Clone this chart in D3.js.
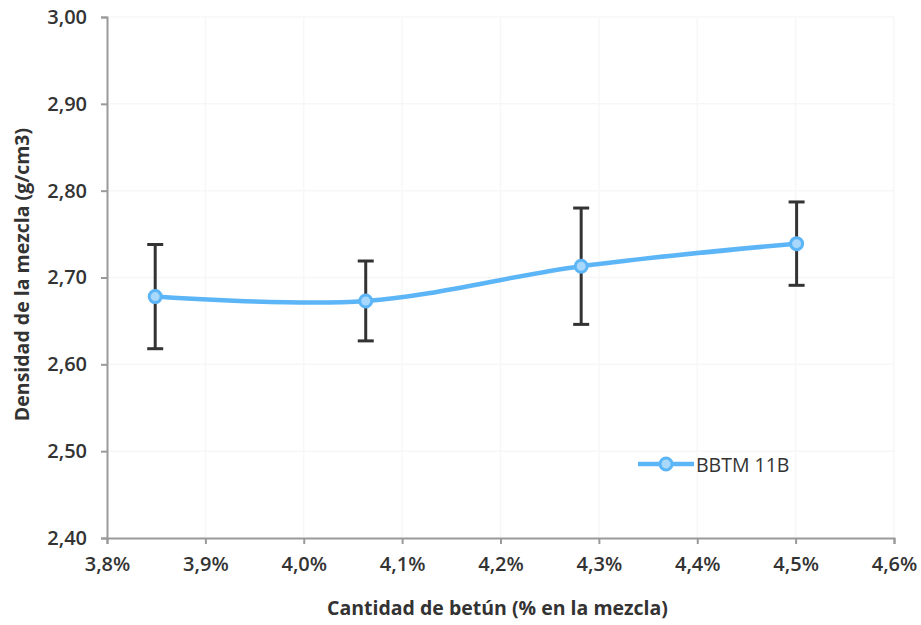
<!DOCTYPE html>
<html>
<head>
<meta charset="utf-8">
<script src="https://cdn.jsdelivr.net/npm/d3@7"></script>
<style>
  html, body { margin: 0; padding: 0; background: #fff; }
  svg { display: block; }
  text { font-family: "Open Sans", Lato, sans-serif; fill: #333; }
</style>
</head>
<body>
<svg id="chart" width="921" height="625"></svg>
<script>
// Bitumen content (% in mix) vs. mix density (g/cm3), BBTM 11B
const bitumen = [3.849, 4.063, 4.282, 4.501];
const density = [2.678, 2.673, 2.713, 2.739];
const errDensity = [0.060, 0.046, 0.067, 0.048];
const seriesName = "BBTM 11B";
const xTicks = [3.8, 3.9, 4.0, 4.1, 4.2, 4.3, 4.4, 4.5, 4.6];
const yTicks = [2.40, 2.50, 2.60, 2.70, 2.80, 2.90, 3.00];

const svg = d3.select("#chart");
const margin = { left: 109, right: 27, top: 17, bottom: 87 };
const W = 921, H = 625;

const x = d3.scaleLinear().domain([3.8, 4.6]).range([margin.left - 2, W - margin.right]);
const y = d3.scaleLinear().domain([2.40, 3.00]).range([H - margin.bottom, margin.top]);

const fmtX = v => d3.format(".1f")(v).replace(".", ",") + "%";
const fmtY = v => d3.format(".2f")(v).replace(".", ",");

// faint gridlines
const grid = svg.append("g");
grid.selectAll(".gx").data(xTicks.slice(1)).join("line")
  .attr("x1", d => x(d)).attr("x2", d => x(d))
  .attr("y1", y(3.0)).attr("y2", y(2.4))
  .attr("stroke", "#f7f7f7").attr("stroke-width", 1.5);
grid.selectAll(".gy").data(yTicks.slice(1)).join("line")
  .attr("x1", x(3.8)).attr("x2", x(4.6))
  .attr("y1", d => y(d)).attr("y2", d => y(d))
  .attr("stroke", "#f7f7f7").attr("stroke-width", 1.5);

// axes
const xAxis = svg.append("g")
  .attr("transform", `translate(0,${y(2.4)})`)
  .call(d3.axisBottom(x).tickValues(xTicks).tickFormat(fmtX).tickSize(6).tickPadding(13));
const yAxis = svg.append("g")
  .attr("transform", `translate(${x(3.8)},0)`)
  .call(d3.axisLeft(y).tickValues(yTicks).tickFormat(fmtY).tickSize(6).tickPadding(14));

[xAxis, yAxis].forEach(g => {
  g.select(".domain").attr("stroke", "#9a9a9a").attr("stroke-width", 2);
  g.selectAll(".tick line").attr("stroke", "#9a9a9a").attr("stroke-width", 2);
  g.selectAll(".tick text").style("font-size", "20px").style("font-weight", "600").attr("fill", "#333");
});

// axis titles
svg.append("text")
  .attr("x", (x(3.8) + x(4.6)) / 2 - 3).attr("y", 615)
  .attr("text-anchor", "middle")
  .style("font-size", "19.5px").style("font-weight", "bold")
  .text("Cantidad de betún (% en la mezcla)");
svg.append("text")
  .attr("transform", `translate(29,${(y(2.4) + y(3.0)) / 2 - 3}) rotate(-90)`)
  .attr("text-anchor", "middle")
  .style("font-size", "19.5px").style("font-weight", "bold")
  .text("Densidad de la mezcla (g/cm3)");

const pts = bitumen.map((v, i) => ({ x: v, y: density[i], e: errDensity[i] }));
const blue = "#5cb5f7";

// smoothed series line
svg.append("path")
  .datum(pts)
  .attr("fill", "none")
  .attr("stroke", blue)
  .attr("stroke-width", 4.5)
  .attr("d", d3.line().x(d => x(d.x)).y(d => y(d.y)).curve(d3.curveCatmullRom.alpha(0)));

// error bars
const eb = svg.append("g").attr("stroke", "#333").attr("stroke-width", 3);
eb.selectAll(".v").data(pts).join("line")
  .attr("x1", d => x(d.x)).attr("x2", d => x(d.x))
  .attr("y1", d => y(d.y + d.e)).attr("y2", d => y(d.y - d.e));
eb.selectAll(".t").data(pts).join("line")
  .attr("x1", d => x(d.x) - 8).attr("x2", d => x(d.x) + 8)
  .attr("y1", d => y(d.y + d.e)).attr("y2", d => y(d.y + d.e));
eb.selectAll(".b").data(pts).join("line")
  .attr("x1", d => x(d.x) - 8).attr("x2", d => x(d.x) + 8)
  .attr("y1", d => y(d.y - d.e)).attr("y2", d => y(d.y - d.e));

// markers
svg.selectAll(".m").data(pts).join("circle")
  .attr("cx", d => x(d.x)).attr("cy", d => y(d.y))
  .attr("r", 6)
  .attr("fill", "#a8d8fb")
  .attr("stroke", blue).attr("stroke-width", 3);

// legend
const lg = svg.append("g").attr("transform", "translate(638,464)");
lg.append("line").attr("x1", 0).attr("x2", 56).attr("y1", 0).attr("y2", 0)
  .attr("stroke", blue).attr("stroke-width", 4.5);
lg.append("circle").attr("cx", 28).attr("cy", 0).attr("r", 6)
  .attr("fill", "#a8d8fb").attr("stroke", blue).attr("stroke-width", 3);
lg.append("text").attr("x", 58).attr("y", 8)
  .style("font-size", "19.5px")
  .text(seriesName);
</script>
</body>
</html>
